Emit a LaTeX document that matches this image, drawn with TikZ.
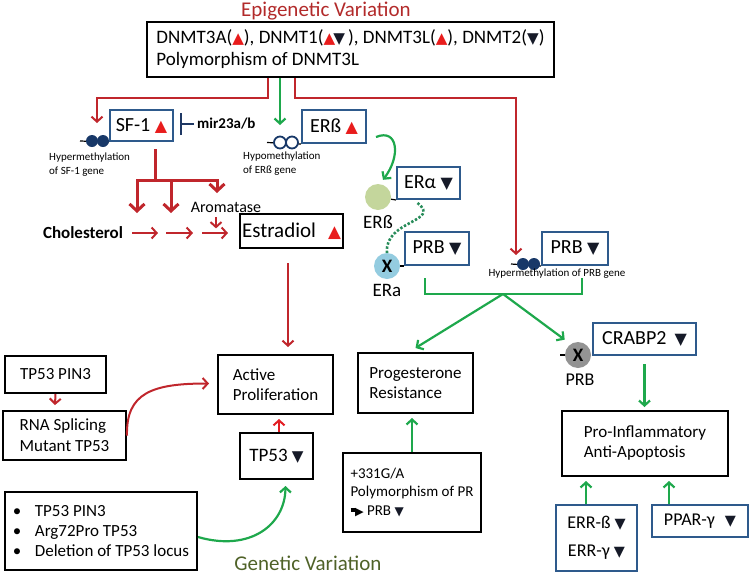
\documentclass[tikz,border=0pt]{standalone}
\usepackage{fontspec}
\setmainfont{Carlito}
\newfontfamily\symfnt{DejaVu Sans}
\usetikzlibrary{arrows.meta,calc}

\definecolor{titlered}{RGB}{178,42,42}
\definecolor{epired}{RGB}{192,38,44}
\definecolor{brightred}{RGB}{226,30,36}
\definecolor{boxblue}{RGB}{46,90,140}
\definecolor{arrgreen}{RGB}{30,168,76}
\definecolor{dotgreen}{RGB}{40,140,90}
\definecolor{genegreen}{RGB}{79,98,40}
\definecolor{methblue}{RGB}{24,56,104}
\definecolor{navy}{RGB}{31,56,100}
\definecolor{erbgreen}{RGB}{196,214,156}
\definecolor{erablue}{RGB}{148,204,224}
\definecolor{trired}{RGB}{232,28,28}
\definecolor{tridark}{RGB}{22,26,40}

\newcommand\fz[2]{\fontsize{#1}{#2}\selectfont}
\newcommand\upt{\textcolor{trired}{\scalebox{0.8}{\symfnt ▲}}}
\newcommand\dnt{\textcolor{tridark}{\scalebox{0.8}{\symfnt ▼}}}
\newcommand\fatarrow{{\rule[3pt]{5pt}{4pt}\kern-0.5pt\scalebox{0.75}{\symfnt ▶}}}

\begin{document}
\begin{tikzpicture}[x=1pt,y=1pt,yscale=-1,
	blk/.style={draw=black, line width=2pt, align=left, inner sep=0pt},
	bbox/.style={draw=boxblue, line width=2pt, align=center, inner sep=0pt},
	lbl/.style={inner sep=0pt, align=left},
	dotnode/.style={circle, minimum size=26pt, inner sep=0pt, font=\fz{19}{20}\bfseries},
	meth/.style={circle, minimum size=12pt, inner sep=0pt, fill=methblue},
	hypo/.style={circle, minimum size=12pt, inner sep=0pt, draw=methblue, line width=1.8pt, fill=white},
	methline/.style={draw=black, line width=1.2pt},
	redarr/.style={draw=epired, line width=2pt, -{Straight Barb[length=5pt,width=11pt]}},
	redthick/.style={draw=epired, line width=3pt, -{Straight Barb[length=7pt,width=15pt]}},
	grnarr/.style={draw=arrgreen, line width=2.2pt, -{Straight Barb[length=5pt,width=11pt]}},
	grnline/.style={draw=arrgreen, line width=2.2pt}]
	\useasboundingbox (0,0) rectangle (750,576);
	
	% Titles
	\node[lbl, text=titlered, font=\fz{21}{24}] (epititle) at (326,11) {Epigenetic Variation};
	\node[lbl, text=genegreen, font=\fz{21}{24}] (genetitle) at (308,563) {Genetic Variation};
	
	% Boxes, epigenetic part
	\node[blk, minimum width=407pt, minimum height=55pt, font=\fz{19}{22}] (dnmt) at (350.5,49.5)
		{DNMT3A(\upt), DNMT1(\upt\kern-2pt\dnt\,), DNMT3L(\upt), DNMT2(\dnt)\\Polymorphism of DNMT3L};
	\node[bbox, minimum width=63pt, minimum height=31pt, font=\fz{20}{22}] (sf1) at (141.5,125.5) {SF-1 \upt};
	\node[bbox, minimum width=64pt, minimum height=33pt, font=\fz{20}{22}] (erb) at (334,126.5) {ERß \upt};
	\node[blk, align=center, minimum width=103pt, minimum height=34pt, font=\fz{21}{24}] (estr) at (291.5,231) {Estradiol\hspace{12pt}\upt};
	\node[bbox, minimum width=63pt, minimum height=32pt, font=\fz{20}{22}] (era) at (428.5,183) {ERα \dnt};
	\node[bbox, minimum width=64pt, minimum height=33pt, font=\fz{20}{22}] (prb1) at (437,248.5) {PRB \dnt};
	\node[bbox, minimum width=66pt, minimum height=33pt, font=\fz{20}{22}] (prb2) at (575,248.5) {PRB \dnt};
	\node[bbox, minimum width=103pt, minimum height=32pt, font=\fz{20}{22}] (crabp) at (644.5,339) {CRABP2\hspace{8pt}\dnt};
	
	% Boxes, outcomes
	\node[blk, minimum width=115pt, minimum height=59pt, font=\fz{17}{20}] (act) at (275.5,384.5) {Active\\Proliferation};
	\node[blk, minimum width=115pt, minimum height=60pt, font=\fz{17}{20}] (prog) at (415.5,383) {Progesterone\\Resistance};
	\node[blk, minimum width=166pt, minimum height=65pt, font=\fz{17}{20}] (proinf) at (645,443.5) {Pro-Inflammatory\\Anti-Apoptosis};
	
	% Boxes, genetic part
	\node[blk, align=center, minimum width=73pt, minimum height=46pt, font=\fz{19}{22}] (tp53) at (276.5,456) {TP53 \dnt};
	\node[blk, minimum width=101pt, minimum height=37pt, font=\fz{17}{20}] (pin3) at (55.5,374.5) {TP53 PIN3};
	\node[blk, minimum width=123pt, minimum height=49pt, font=\fz{17}{21}] (rna) at (64.5,435.5) {RNA Splicing\\Mutant TP53};
	\node[blk, minimum width=192pt, minimum height=78pt, font=\fz{17}{20}] (bul) at (101,531)
		{\makebox[22pt][l]{•}TP53 PIN3\\\makebox[22pt][l]{•}Arg72Pro TP53\\\makebox[22pt][l]{•}Deletion of TP53 locus};
	\node[blk, minimum width=138pt, minimum height=79pt, font=\fz{15}{18.5}] (poly) at (412,492.5)
		{+331G/A\\Polymorphism of PR\\\fatarrow\ PRB \dnt};
	\node[bbox, minimum width=81pt, minimum height=66pt, font=\fz{18}{28}] (err) at (596.5,538) {ERR-ß \dnt\\ERR-γ \dnt};
	\node[bbox, minimum width=96pt, minimum height=32pt, font=\fz{18}{22}] (ppar) at (700,521) {PPAR-γ\hspace{10pt}\dnt};
	
	% Receptor dots
	\node[dotnode, fill=erbgreen] (erbdot) at (378,197) {};
	\node[dotnode, fill=erablue] (eradot) at (387,266) {X};
	\node[dotnode, fill=gray!85] (prbdot) at (578,355) {X};
	\node[lbl, font=\fz{19}{20}] (erblbl) at (378,222) {ERß};
	\node[lbl, font=\fz{19}{20}] (eralbl) at (387,290) {ERa};
	\node[lbl, font=\fz{18}{20}] (prblbl) at (580,380) {PRB};
	\draw[methline] (erbdot) -- (era.south west);
	\draw[methline] (eradot) -- (prb1.south west);
	\draw[methline] (prbdot.west) -- ++(-5,0);
	
	% Methylation marks
	\draw[methline] (80,141) -- (sf1.south west);
	\node[meth] (sfm1) at (92,141) {};
	\node[meth] (sfm2) at (103,141) {};
	\draw[methline] (267,142.5) -- (erb.south west);
	\node[hypo] (erbm1) at (280,142.5) {};
	\node[hypo] (erbm2) at (292,142.5) {};
	\draw[methline] (511,264) -- (prb2.south west);
	\node[meth] (prbm1) at (523,264) {};
	\node[meth] (prbm2) at (534,264) {};
	
	% Text Nodes
	\node[lbl, anchor=north west, font=\fz{11}{13.5}] (sfhyp) at (49,153) {Hypermethylation\\of SF-1 gene};
	\node[lbl, anchor=north west, font=\fz{11}{13.5}] (erbhyp) at (243,152) {Hypomethylation\\of ERß gene};
	\node[lbl, font=\fz{11}{13}] (prbhyp) at (557,274) {Hypermethylation of PRB gene};
	\node[lbl, font=\fz{16}{18}] (arom) at (226,207) {Aromatase};
	\node[lbl, font=\fz{17}{20}\bfseries] (chol) at (83,233) {Cholesterol};
	\node[lbl, anchor=west, font=\fz{15}{18}\bfseries] (mir) at (197,124) {mir23a/b};
	
	% Free ends
	\coordinate (sfin) at (97,123);
	\coordinate (hypoin) at (280,125);
	\coordinate (prbin) at (516,255);
	\coordinate (brj) at (155,180);
	\coordinate (s1a) at (132,233); \coordinate (s1b) at (158,233);
	\coordinate (s2a) at (166,233); \coordinate (s2b) at (193,233);
	\coordinate (s3a) at (202,233); \coordinate (s3b) at (228,233);
	\coordinate (brl) at (425,278);
	\coordinate (brr) at (582,278);
	\coordinate (apex) at (503,294);
	
	% Red connectors
	\draw[redarr] ([xshift=-82.5pt]dnmt.south) -- ++(0,20) -| (sfin);
	\draw[redarr] ([xshift=-55.5pt]dnmt.south) -- ++(0,20) -| (prbin);
	\draw[draw=epired, line width=3pt] ($(sf1.south)+(13.5,7)$) -- (brj);
	\draw[redthick] (brj) -| (137,213);
	\draw[redthick] (brj) -| (171,213);
	\draw[redthick] (brj) -| (217,193);
	\draw[redarr] ($(arom.south)+(-10,5)$) -- ++(0,11);
	\draw[redarr] (s1a) -- (s1b);
	\draw[redarr] (s2a) -- (s2b);
	\draw[redarr] (s3a) -- (s3b);
	\draw[redarr] ($(estr.south)+(-3.5,14)$) -- ($(act.north)+(12.5,-7)$);
	\draw[redarr, draw=brightred] ($(tp53.north)+(2.5,0)$) -- ($(act.south)+(3.5,4)$);
	\draw[redarr] (pin3.south) -- ($(rna.north)+(-9.5,-5)$);
	\draw[redarr] (rna.east) .. controls (126,393) and (152,383.5) .. ($(act.west)+(-8,-1)$);
	
	% Inhibition
	\draw[draw=navy, line width=2pt, -{Bar[width=22pt,line width=2pt]}] ($(mir.west)+(-3,0)$) -- ($(sf1.east)+(6,-1.5)$);
	
	% Green connectors
	\draw[grnarr] ([xshift=-70.5pt]dnmt.south) -- (hypoin);
	\draw[grnarr] ($(erb.east)+(9,10.5)$) .. controls (398,128) and (401,156) .. ($(erbdot.north)+(5,-4)$);
	\draw[draw=dotgreen, line width=2.6pt, dash pattern={on 2.4pt off 1.8pt}] ($(era.south)+(-11,3)$) .. controls (442,222) and (384,220) .. (eradot.north);
	\draw[grnline] (brl) |- (apex) -| (brr);
	\draw[grnarr] (apex) -- ($(prog.north)+(0,-4)$);
	\draw[grnarr] (apex) -- ($(prbdot.north west)+(-4,-6)$);
	\draw[grnarr] (poly.north) -- ($(prog.south)+(-3.5,4)$);
	\draw[grnarr] ($(crabp.south)+(0,8)$) -- ($(proinf.north)+(-0.5,-3)$);
	\draw[grnarr] ($(err.north)+(-10.5,0)$) -- ($(proinf.south)+(-59,4)$);
	\draw[grnarr] ($(ppar.north)+(-31,0)$) -- ($(proinf.south)+(24,4)$);
	\draw[grnarr] ($(bul.east)+(0,6)$) .. controls (250,552) and (285,525) .. ($(tp53.south)+(9,6)$);
	
\end{tikzpicture}
\end{document}
